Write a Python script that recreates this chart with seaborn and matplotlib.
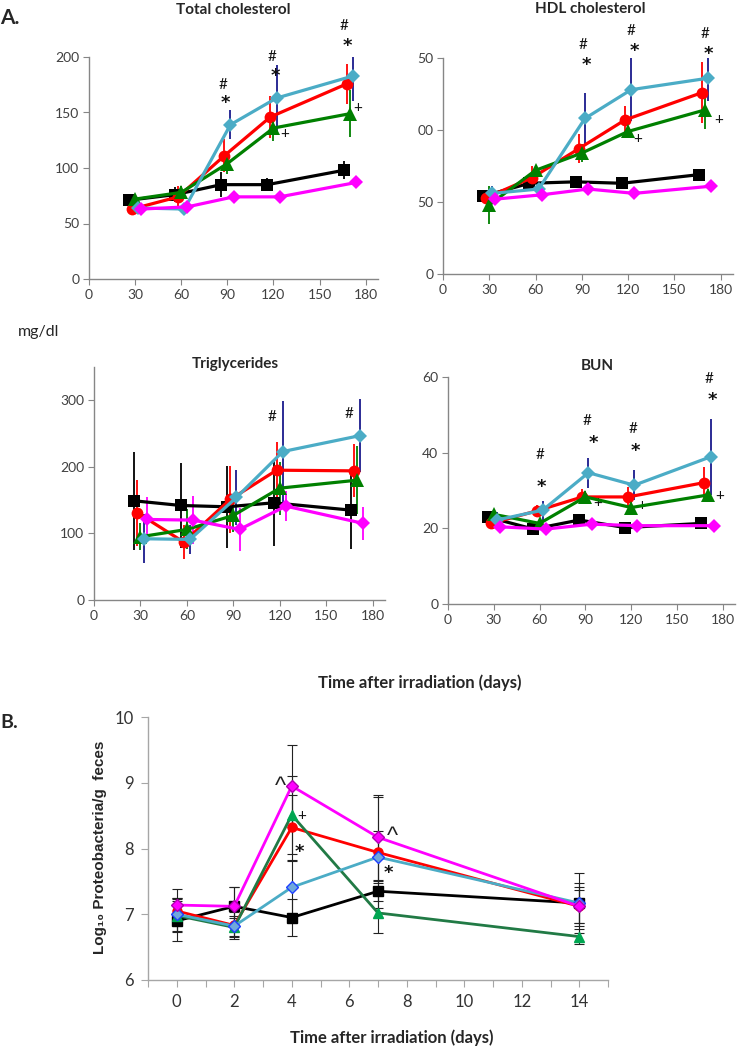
import matplotlib
matplotlib.use("Agg")
import matplotlib.pyplot as plt
import seaborn as sns
import numpy as np

sns.set_theme(style="ticks")
plt.rcParams['font.family'] = ['Lato', 'DejaVu Sans']

# ---------------- data ----------------
groups = ["G1", "G2", "G3", "G4", "G5"]
days_a = [30, 60, 90, 120, 170]
day_shift = {"G1": -4, "G2": -2, "G3": 0, "G4": 2, "G5": 4}

tc_mean = {"G1": [71, 76, 85, 85, 98], "G2": [63, 74, 111, 146, 176],
           "G3": [72, 78, 104, 136, 149], "G4": [64, 63, 139, 163, 183],
           "G5": [63, 65, 74, 74, 87]}
tc_err = {"G1": [6, 7, 11, 6, 8], "G2": [4, 10, 15, 19, 18],
          "G3": [3, 6, 9, 12, 21], "G4": [5, 2, 13, 30, 23],
          "G5": [3, 3, 2, 2, 5]}

hdl_mean = {"G1": [54, 63, 64, 63, 69], "G2": [53, 67, 87, 107, 126],
            "G3": [48, 72, 84, 99, 114], "G4": [56, 59, 108, 128, 136],
            "G5": [52, 55, 59, 56, 61]}
hdl_err = {"G1": [3, 3, 2, 2, 2], "G2": [3, 8, 10, 10, 21],
           "G3": [13, 4, 6, 4, 13], "G4": [5, 3, 18, 22, 16],
           "G5": [2, 2, 3, 2, 2]}

tg_mean = {"G1": [149, 142, 140, 146, 135], "G2": [131, 87, 151, 195, 194],
           "G3": [95, 106, 127, 168, 180], "G4": [92, 91, 154, 223, 247],
           "G5": [121, 120, 106, 141, 115]}
tg_err = {"G1": [74, 64, 62, 65, 58], "G2": [50, 25, 50, 42, 40],
          "G3": [20, 30, 25, 40, 51], "G4": [37, 22, 42, 76, 55],
          "G5": [33, 36, 32, 22, 25]}

bun_mean = {"G1": [23, 19.8, 22.2, 20.2, 21.3], "G2": [21.3, 24.6, 28.3, 28.3, 32.1],
            "G3": [23.7, 21.3, 28.3, 25.5, 28.8], "G4": [22.2, 24.8, 34.7, 31.4, 38.9],
            "G5": [20.4, 19.8, 21.1, 20.7, 20.7]}
bun_err = {"G1": [1, 1, 1, 1, 1], "G2": [1, 1.5, 2, 2.5, 4],
           "G3": [1, 1, 1.5, 1.5, 1.5], "G4": [2, 2.5, 4, 4, 10],
           "G5": [0.8, 0.8, 0.8, 0.8, 0.8]}

days_b = [0, 2, 4, 7, 14]
pb_mean = {"G1": [6.90, 7.12, 6.95, 7.35, 7.17], "G2": [7.05, 6.83, 8.32, 7.94, 7.12],
           "G3": [6.98, 6.80, 8.51, 7.02, 6.66], "G4": [7.00, 6.82, 7.41, 7.87, 7.17],
           "G5": [7.14, 7.12, 8.95, 8.17, 7.12]}
pb_err = {"G1": [0.30, 0.30, 0.28, 0.15, 0.30], "G2": [0.20, 0.20, 0.50, 0.85, 0.25],
          "G3": [0.25, 0.15, 0.60, 0.30, 0.12], "G4": [0.25, 0.15, 0.40, 0.40, 0.45],
          "G5": [0.25, 0.30, 0.62, 0.65, 0.30]}

tc_notes = [("#", 87, 175), ("*", 89, 159), ("#", 119, 200), ("*", 121, 183),
            ("#", 166, 228), ("*", 168, 210), ("+", 127, 131), ("+", 175, 154)]
hdl_notes = [("#", 91, 159), ("*", 93, 145), ("#", 122, 169), ("*", 124, 155),
             ("#", 170, 167), ("*", 172, 153), ("+", 126, 94), ("+", 179, 107)]
tg_notes = [("#", 115, 275), ("#", 165, 280)]
bun_notes = [("#", 60, 39.3), ("*", 61, 31.0), ("#", 91, 48.5), ("*", 95, 42.5),
             ("#", 121, 46.3), ("*", 123, 40.5), ("#", 171, 59.5), ("*", 173, 53.8),
             ("+", 98, 26.7), ("+", 127, 26), ("+", 178, 28.6)]
pb_notes = [("^", 3.6, 8.94), ("+", 4.35, 8.5), ("*", 4.25, 7.95),
            ("^", 7.5, 8.17), ("*", 7.35, 7.62)]

# ---------------- styles ----------------
line_col = {"G1": "#000000", "G2": "#FF0000", "G3": "#008000", "G4": "#4BACC6", "G5": "#FF00FF"}
err_col = {"G1": "#000000", "G2": "#FF0000", "G3": "#008000", "G4": "#1A1A8C", "G5": "#FF00FF"}
mk = {"G1": "s", "G2": "o", "G3": "^", "G4": "D", "G5": "D"}
ms = {"G1": 8.5, "G2": 8.5, "G3": 9.5, "G4": 7, "G5": 7}

W, H = 740, 1049
fig = plt.figure(figsize=(W / 100, H / 100), dpi=100)


def rect(l, r, t, b):
    return [l / W, 1 - b / H, (r - l) / W, (b - t) / H]


def style_axes(ax, spine_col="#868686"):
    for s in ["top", "right"]:
        ax.spines[s].set_visible(False)
    for s in ["left", "bottom"]:
        ax.spines[s].set_color(spine_col)
        ax.spines[s].set_linewidth(1.0)


def note(ax, txt, x, y):
    if txt == "*":
        ax.text(x, y, txt, ha="center", va="center", fontsize=13, color="#111111",
                clip_on=False, family=["DejaVu Sans"], fontweight="bold")
    elif txt == "^":
        ax.text(x, y, txt, ha="center", va="center", fontsize=17, color="#222222",
                clip_on=False, family=["Liberation Sans", "DejaVu Sans"])
    else:
        ax.text(x, y, txt, ha="center", va="center", fontsize=11, color="#111111",
                clip_on=False)


def panel_a(r, means, errs, ylim, yticks, ylabels, notes):
    ax = fig.add_axes(rect(*r))
    for g in groups:
        x = [d + day_shift[g] for d in days_a]
        ax.errorbar(x, means[g], yerr=errs[g], fmt="none", ecolor=err_col[g],
                    elinewidth=1.3, capsize=0, zorder=1)
    for i, g in enumerate(groups):
        x = [d + day_shift[g] for d in days_a]
        sns.lineplot(x=x, y=means[g], ax=ax, color=line_col[g], marker=mk[g],
                     markersize=ms[g], mec=line_col[g], mew=0, lw=2.3,
                     estimator=None, sort=False, zorder=2 + i)
    for txt, x, y in notes:
        note(ax, txt, x, y)
    ax.set_xlim(0, 188)
    ax.set_ylim(*ylim)
    ax.set_xticks([0, 30, 60, 90, 120, 150, 180])
    ax.set_yticks(yticks)
    ax.set_yticklabels(ylabels)
    ax.set_xlabel("")
    ax.set_ylabel("")
    ax.tick_params(axis="both", direction="out", length=4, width=0.8, color="#868686",
                   labelsize=10, labelcolor="#404040", pad=3)
    style_axes(ax)
    return ax


panel_a((89, 378, 57, 279), tc_mean, tc_err, (0, 200), [0, 50, 100, 150, 200],
        ["0", "50", "100", "150", "200"], tc_notes)
panel_a((443, 733, 58, 274), hdl_mean, hdl_err, (0, 150), [0, 50, 100, 150],
        ["0", "50", "00", "50"], hdl_notes)
panel_a((94, 385, 367, 600), tg_mean, tg_err, (0, 350), [0, 100, 200, 300],
        ["0", "100", "200", "300"], tg_notes)
panel_a((448, 735, 377, 604), bun_mean, bun_err, (0, 60), [0, 20, 40, 60],
        ["0", "20", "40", "60"], bun_notes)


def ftext(x, y, s, **kw):
    fig.text(x / W, 1 - y / H, s, **kw)


ftext(233, 10, "Total cholesterol", ha="center", va="center", fontsize=11, fontweight="bold")
ftext(590, 9, "HDL cholesterol", ha="center", va="center", fontsize=11, fontweight="bold")
ftext(235, 364, "Triglycerides", ha="center", va="center", fontsize=11, fontweight="bold")
ftext(597, 366, "BUN", ha="center", va="center", fontsize=11, fontweight="bold")
ftext(0, 18, "A.", ha="left", va="center", fontsize=15, fontweight="bold")
ftext(18, 332, "mg/dl", ha="left", va="center", fontsize=11.5)
ftext(420, 683, "Time after irradiation (days)", ha="center", va="center",
      fontsize=12, fontweight="bold")

# ---------------- panel B ----------------
axb = fig.add_axes(rect(148, 608, 717, 980))
b_line = {"G1": "#000000", "G2": "#FF0000", "G3": "#217A45", "G4": "#4BACC6", "G5": "#FF00FF"}
b_face = {"G1": "#000000", "G2": "#FF0000", "G3": "#00A651", "G4": "#6FA8DC", "G5": "#FF00FF"}
b_edge = {"G1": "#000000", "G2": "#FF0000", "G3": "#00A651", "G4": "#1F3FFF", "G5": "#B000B0"}
b_ms = {"G1": 6.5, "G2": 6.5, "G3": 7.5, "G4": 6, "G5": 6}
for g in groups:
    axb.errorbar(days_b, pb_mean[g], yerr=pb_err[g], fmt="none", ecolor="#222222",
                 elinewidth=0.8, capsize=3.5, capthick=0.8, zorder=1)
for i, g in enumerate(groups):
    sns.lineplot(x=days_b, y=pb_mean[g], ax=axb, color=b_line[g], marker=mk[g],
                 markersize=b_ms[g], mfc=b_face[g], mec=b_edge[g], mew=1.0, lw=2.0,
                 estimator=None, sort=False, zorder=2 + i)
for txt, x, y in pb_notes:
    note(axb, txt, x, y)
axb.set_xlim(-1, 15)
axb.set_ylim(6, 10)
axb.set_xticks(list(range(-1, 16)))
axb.set_xticklabels([str(v) if (v >= 0 and v % 2 == 0) else "" for v in range(-1, 16)])
axb.set_yticks([6, 7, 8, 9, 10])
axb.set_xlabel("")
axb.set_ylabel("")
axb.tick_params(axis="both", direction="out", length=5, width=0.8, color="#A6A6A6",
                labelsize=12, labelcolor="#333333", pad=5)
style_axes(axb, "#A6A6A6")

ftext(0, 723, "B.", ha="left", va="center", fontsize=14, fontweight="bold")
fig.text(100 / W, 1 - 847 / H, "Log₁₀ Proteobacteria/g  feces", rotation=90,
         ha="center", va="center", fontsize=11, fontweight="bold",
         family=["Liberation Sans", "DejaVu Sans"])
ftext(392, 1038, "Time after irradiation (days)", ha="center", va="center",
      fontsize=12, fontweight="bold")

fig.savefig("out.png", dpi=100)
